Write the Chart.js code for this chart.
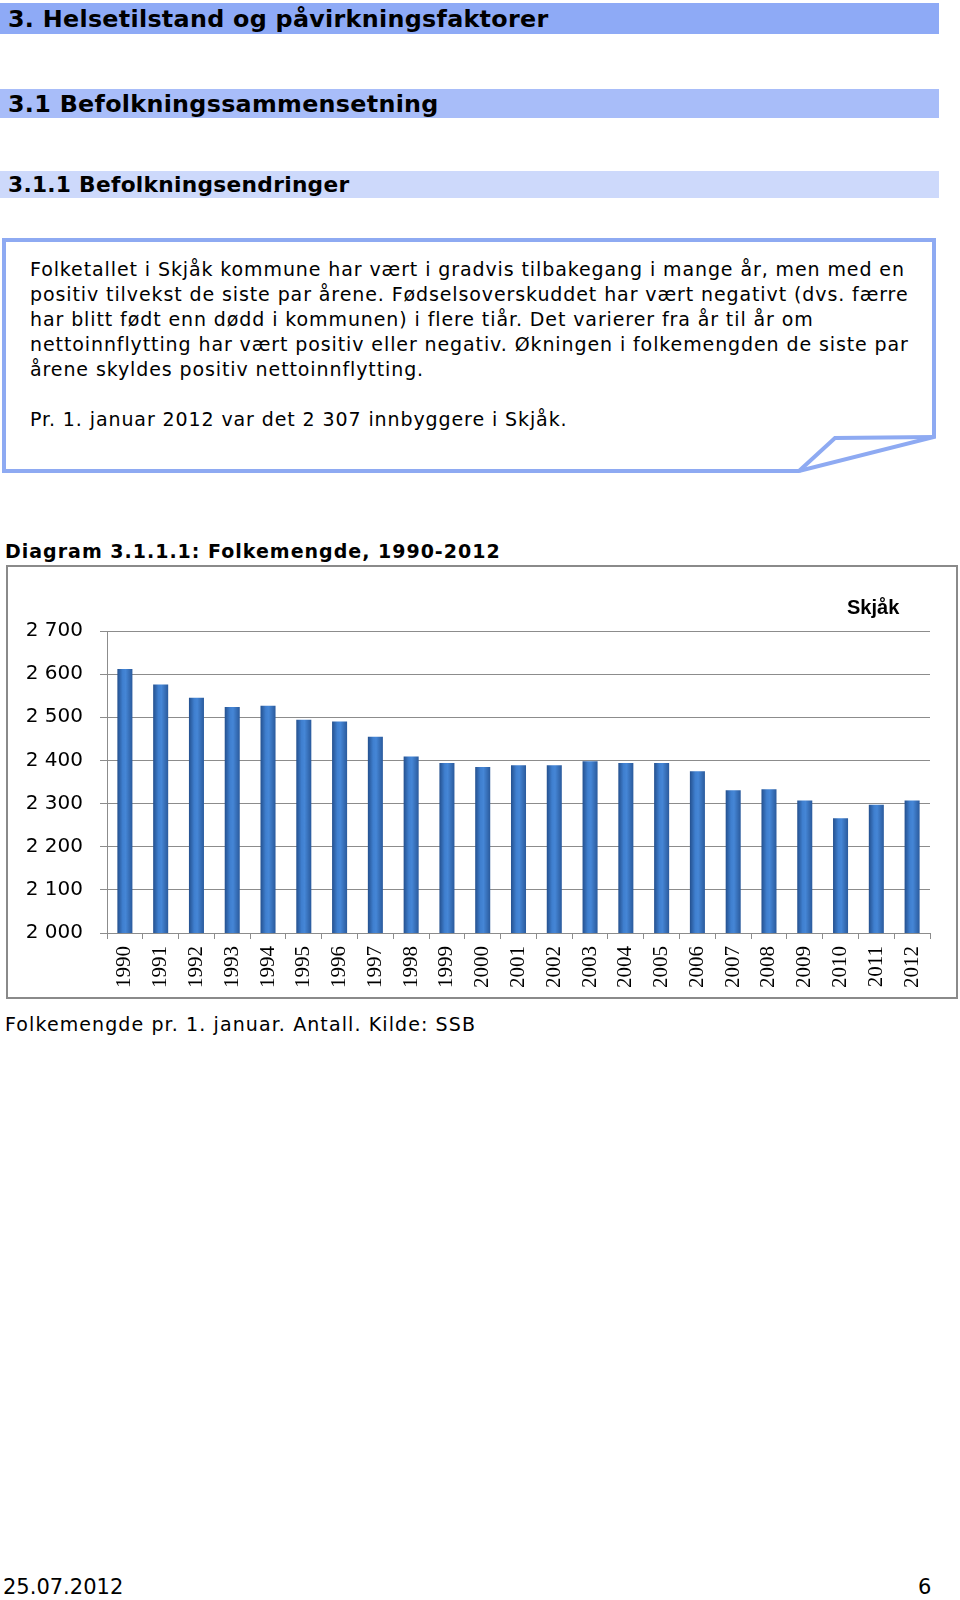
<!DOCTYPE html>
<html>
<head>
<meta charset="utf-8">
<script src="https://cdn.jsdelivr.net/npm/chart.js@4"></script>
<style>
  body { margin: 0; background: #fff; width: 960px; height: 1600px; position: relative; overflow: hidden; color: #000; }
  .h { position: absolute; left: 0; width: 939px; font-family: "DejaVu Sans", Verdana, sans-serif; font-weight: bold; box-sizing: border-box; padding-left: 8px; white-space: nowrap; }
  #h1 { top: 3px; height: 31px; line-height: 32px; font-size: 23.8px; letter-spacing: 0.3px; background: #8eaaf6; }
  #h2 { top: 89px; height: 29px; line-height: 30px; font-size: 23.8px; letter-spacing: 0.3px; background: #a8bdf9; }
  #h3 { top: 171px; height: 27px; line-height: 28px; font-size: 21.7px; letter-spacing: 0.3px; background: #cdd9fb; }
  #boxsvg { position: absolute; left: 0; top: 0; }
  #boxtext { position: absolute; left: 30px; top: 257px; font-family: "DejaVu Sans", Verdana, sans-serif; font-size: 19px; letter-spacing: 0.9px; line-height: 25px; white-space: nowrap; }
  #dtitle { position: absolute; left: 5px; top: 540px; font-family: "DejaVu Sans", Verdana, sans-serif; font-weight: bold; font-size: 19px; letter-spacing: 1px; }
  #chartbox { position: absolute; left: 6px; top: 565px; width: 948px; height: 430px; border: 2px solid #8a8a8a; background: #fff; }
  #chartbox canvas { position: absolute; left: 0; top: 0; }
  #skjak { position: absolute; left: 847px; top: 596px; font-family: "Liberation Sans", Arial, sans-serif; font-weight: bold; font-size: 20px; }
  #caption { position: absolute; left: 5px; top: 1013px; font-family: "DejaVu Sans", Verdana, sans-serif; font-size: 19px; letter-spacing: 1.1px; }
  #fdate { position: absolute; left: 3px; top: 1575px; font-family: "DejaVu Sans", sans-serif; font-size: 21px; }
  #fpage { position: absolute; left: 918px; top: 1575px; font-family: "DejaVu Sans", sans-serif; font-size: 21px; }
</style>
</head>
<body>
<div class="h" id="h1">3. Helsetilstand og påvirkningsfaktorer</div>
<div class="h" id="h2">3.1 Befolkningssammensetning</div>
<div class="h" id="h3">3.1.1 Befolkningsendringer</div>

<svg id="boxsvg" width="960" height="500">
  <path d="M4,240 L934,240 L934,437 L799,471 L4,471 Z" fill="#fff" stroke="#8eaaf2" stroke-width="4" stroke-linejoin="miter"/>
  <path d="M799,471 L835,438 L934,437" fill="none" stroke="#8eaaf2" stroke-width="4"/>
</svg>
<div id="boxtext">Folketallet i Skjåk kommune har vært i gradvis tilbakegang i mange år, men med en<br>positiv tilvekst de siste par årene. Fødselsoverskuddet har vært negativt (dvs. færre<br>har blitt født enn dødd i kommunen) i flere tiår. Det varierer fra år til år om<br>nettoinnflytting har vært positiv eller negativ. Økningen i folkemengden de siste par<br>årene skyldes positiv nettoinnflytting.<br><br>Pr. 1. januar 2012 var det 2 307 innbyggere i Skjåk.</div>

<div id="dtitle">Diagram 3.1.1.1: Folkemengde, 1990-2012</div>
<div id="chartbox"><canvas id="myChart" width="948" height="430"></canvas></div>
<div id="skjak">Skjåk</div>
<div id="caption">Folkemengde pr. 1. januar. Antall. Kilde: SSB</div>
<div id="fdate">25.07.2012</div>
<div id="fpage">6</div>

<script>
// folkemengde pr. 1. januar, Skjåk
var years = ['1990', '1991', '1992', '1993', '1994', '1995', '1996', '1997', '1998', '1999', '2000', '2001',
             '2002', '2003', '2004', '2005', '2006', '2007', '2008', '2009', '2010', '2011', '2012'];
var folkemengde = [2612, 2576, 2545, 2524, 2527, 2494, 2490, 2455, 2409, 2394, 2385, 2389,
                   2389, 2398, 2394, 2394, 2375, 2331, 2333, 2307, 2266, 2297, 2307];
var yMin = 2000;
var yMax = 2700;
var yStep = 100;

function mellomrom(v) {   // 2700 -> "2 700"
    return String(v).replace(/\B(?=(\d{3})+(?!\d))/g, ' ');
}

// sylinderaktig gradient per stolpe
function stolpeFarge(c) {
    var chart = c.chart;
    var xs = chart.scales.x;
    if (!chart.chartArea || !xs || c.dataIndex === undefined) return '#3a74c0';
    var cx = xs.getPixelForValue(c.dataIndex);
    var w = (xs.width / years.length) * 0.42;
    var g = chart.ctx.createLinearGradient(cx - w / 2, 0, cx + w / 2, 0);
    g.addColorStop(0, '#24508e');
    g.addColorStop(0.35, '#3f7fcf');
    g.addColorStop(0.55, '#4586d6');
    g.addColorStop(1, '#2a5a9c');
    return g;
}

var ctx = document.getElementById('myChart');
var myChart = new Chart(ctx, {
    type: 'bar',
    data: {
        labels: years,
        datasets: [{
            data: folkemengde,
            backgroundColor: stolpeFarge,
            borderWidth: 0,
            categoryPercentage: 1,
            barPercentage: 0.42
        }]
    },
    options: {
        responsive: false,
        animation: false,
        layout: { padding: { top: 64, right: 26, left: 0, bottom: 0 } },
        plugins: {
            legend: { display: false },
            tooltip: { enabled: false }
        },
        scales: {
            x: {
                afterFit: function (s) { s.height = 64; },
                grid: {
                    offset: true,
                    drawOnChartArea: false,
                    tickLength: 6,
                    color: '#8c8c8c'
                },
                border: { color: '#8c8c8c' },
                ticks: {
                    minRotation: 90,
                    maxRotation: 90,
                    padding: 7,
                    color: '#000',
                    font: { family: '"Liberation Serif", "DejaVu Serif", serif', size: 21 }
                }
            },
            y: {
                min: yMin,
                max: yMax,
                afterFit: function (s) { s.width = 99; },
                grid: { color: '#8c8c8c', tickLength: 7 },
                border: { color: '#8c8c8c' },
                ticks: {
                    stepSize: yStep,
                    padding: 17,
                    color: '#000',
                    font: { family: '"DejaVu Sans", Verdana, sans-serif', size: 20 },
                    callback: function (v) { return mellomrom(v); }
                }
            }
        }
    }
});
</script>
</body>
</html>
